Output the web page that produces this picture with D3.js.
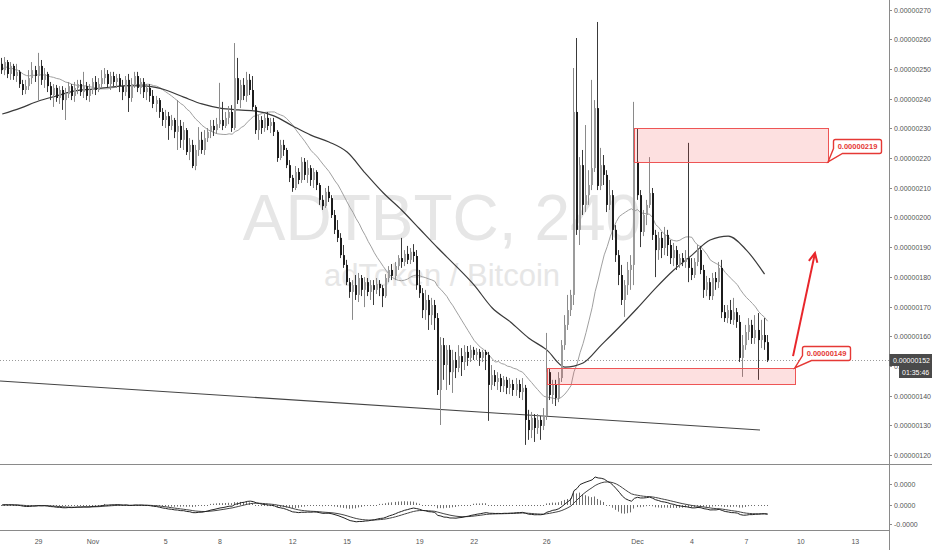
<!DOCTYPE html>
<html><head><meta charset="utf-8">
<script src="https://cdn.jsdelivr.net/npm/d3@7"></script>
<style>html,body{margin:0;padding:0;background:#fff;}svg{display:block;}</style>
</head><body>
<svg id="c" width="932" height="550"></svg>
<script>
// ADT/BTC 4h candles, prices in satoshi (x1e-8 BTC), first candle 2017-10-27 00:00 UTC
const opens = [251.7,249.6,252.3,248.3,251.0,247.6,249.0,244.9,242.9,244.2,246.9,249.6,247.6,251.0,246.3,248.3,244.2,241.2,243.6,240.2,242.9,239.5,241.5,244.2,240.9,243.6,244.9,242.2,244.2,240.9,242.9,245.6,242.9,244.9,246.9,248.3,244.9,247.6,245.6,246.9,244.2,242.2,246.3,240.2,244.9,247.6,243.6,245.6,242.2,243.6,240.9,238.2,239.5,235.5,232.8,234.1,230.8,232.8,228.8,230.8,226.1,229.4,222.0,224.4,217.3,222.7,226.1,222.7,226.7,228.8,230.8,229.4,231.4,232.8,230.8,233.5,235.5,230.1,246.9,239.5,244.6,240.9,246.3,242.9,237.2,229.4,232.8,230.1,233.5,230.8,232.1,228.8,220.0,224.4,222.7,217.6,213.3,209.9,215.3,212.6,218.7,214.3,216.6,212.6,215.3,210.9,205.9,203.8,208.6,206.5,200.8,195.8,193.1,187.3,184.0,178.2,174.9,177.2,173.9,179.6,175.6,178.2,174.9,177.2,175.6,177.6,176.2,173.5,179.6,182.3,180.3,183.6,186.3,185.0,187.7,185.7,188.4,187.0,177.2,174.5,168.8,172.2,167.1,170.5,166.1,141.9,157.0,150.3,155.4,147.9,152.0,149.3,153.3,151.3,154.7,152.7,155.4,153.7,154.7,152.7,154.7,153.7,143.6,146.9,144.6,145.9,143.2,145.3,142.6,143.9,141.9,143.9,141.2,142.6,131.8,128.4,132.5,129.1,131.8,129.8,133.1,147.9,140.2,143.6,139.2,145.9,157.0,163.8,168.8,173.9,235.5,195.8,217.6,204.2,207.5,210.9,216.6,236.8,210.6,217.6,214.3,204.2,207.5,195.8,187.3,180.6,172.2,177.2,182.3,184.0,218.7,207.5,195.1,200.8,204.2,208.2,194.1,189.0,193.1,189.7,194.1,190.7,186.3,189.0,184.0,186.3,185.0,186.3,183.0,180.6,185.0,189.0,182.3,175.6,178.2,173.5,179.6,178.2,183.0,168.1,166.1,168.8,165.5,168.1,164.8,152.7,157.0,161.4,163.8,159.4,162.1,158.7,160.4,158.0];
const highs = [253.7,254.0,253.0,252.3,251.7,251.7,249.6,246.3,246.3,249.6,252.3,251.0,255.4,253.0,250.3,249.0,245.6,244.9,244.6,244.2,244.2,243.6,245.6,244.9,245.6,246.3,246.3,249.0,245.6,244.9,246.9,247.6,246.9,249.6,250.3,249.6,249.0,249.0,248.3,248.3,246.3,247.6,248.3,246.9,249.0,249.0,246.9,246.9,244.9,244.9,242.9,240.9,240.2,236.8,236.2,235.5,234.5,233.5,239.5,232.8,232.1,230.1,226.7,226.1,224.4,230.4,228.8,229.4,230.1,232.8,232.8,233.5,245.3,238.9,235.5,237.5,237.8,258.7,253.7,246.3,246.9,249.0,248.3,247.6,237.8,234.5,234.1,234.8,235.5,233.5,233.5,229.4,226.1,226.1,223.4,219.3,214.3,217.3,216.6,220.3,220.0,219.3,217.6,216.6,215.9,211.6,207.5,209.9,210.6,207.5,202.5,199.1,194.7,190.7,185.7,179.6,178.9,180.6,181.3,180.6,179.9,179.6,178.9,178.9,179.6,178.9,177.2,180.9,183.6,184.3,185.0,187.3,193.1,189.0,190.4,189.7,191.0,189.0,182.3,176.2,175.6,173.9,172.9,172.2,167.8,159.7,159.4,157.0,157.0,155.4,154.7,157.0,156.0,157.0,156.7,157.0,156.4,156.0,155.7,155.4,155.4,154.7,150.3,148.6,147.9,147.3,146.6,146.3,145.9,145.3,145.9,145.3,145.9,143.6,135.2,134.5,133.8,133.8,133.1,135.8,161.1,149.3,145.3,145.3,147.9,158.7,167.1,173.9,175.6,250.3,260.4,220.3,222.7,231.1,215.9,246.3,239.5,265.8,223.4,221.0,215.9,212.6,209.2,197.4,189.0,184.0,178.9,185.0,187.3,238.9,230.1,209.2,202.5,205.9,220.3,209.9,195.8,195.1,195.1,196.8,195.8,192.4,191.4,190.4,187.7,188.0,189.0,225.1,186.3,186.3,190.7,190.4,184.0,180.3,179.6,181.3,181.6,185.0,185.7,170.5,170.5,172.2,172.9,169.5,167.1,160.4,163.8,166.1,165.5,167.1,167.8,165.5,166.1,160.4];
const lows = [248.3,247.9,246.9,246.3,246.3,245.6,243.6,241.2,241.5,242.9,244.9,245.6,239.5,244.6,243.6,242.2,239.5,237.2,238.9,238.2,236.2,232.8,240.2,239.5,238.9,241.5,240.9,240.2,239.5,238.9,241.5,241.2,242.2,243.6,244.9,243.6,242.9,244.2,243.6,242.2,239.5,240.9,235.5,238.9,243.6,242.2,241.5,240.2,239.5,238.9,236.8,235.5,233.5,230.8,230.1,226.1,229.4,226.7,222.7,223.4,222.7,221.0,219.3,216.6,215.9,220.7,221.4,221.0,225.4,226.7,227.4,228.1,230.1,229.4,230.1,231.4,228.8,229.4,238.2,236.8,239.5,238.9,241.2,236.2,228.1,226.1,228.1,228.8,229.4,228.4,227.4,218.7,219.3,220.7,216.6,211.9,208.6,209.2,211.2,211.6,212.6,211.6,210.6,209.9,209.2,204.2,202.5,203.2,205.2,199.8,194.4,191.7,186.3,183.0,177.2,172.9,165.5,172.2,171.5,173.5,169.8,173.5,172.2,170.5,174.2,173.5,169.8,172.9,178.2,178.9,178.9,182.3,183.0,183.6,184.3,184.3,185.0,175.6,172.9,166.1,165.5,162.1,163.8,162.1,140.2,130.1,145.3,141.9,143.6,140.9,145.9,147.9,146.6,148.6,150.0,151.3,152.0,152.0,150.0,151.3,148.6,131.5,141.9,143.2,141.9,141.2,141.2,140.5,140.5,139.9,139.9,139.2,138.5,123.4,125.1,125.7,124.4,127.1,125.1,128.4,131.8,138.5,137.2,136.5,137.8,144.6,155.4,162.1,166.8,170.5,194.1,190.7,200.8,201.8,204.2,209.2,215.3,209.2,209.2,210.9,201.8,202.5,192.4,185.0,177.2,170.5,166.5,173.9,175.6,177.2,205.9,190.0,193.7,197.4,203.2,192.4,179.9,185.7,186.3,187.3,187.0,184.3,183.6,182.3,183.0,183.6,183.0,178.2,178.9,179.6,183.6,180.9,172.9,173.5,172.2,172.2,175.6,176.2,166.1,164.8,164.4,164.1,163.8,162.8,151.3,146.3,155.4,158.7,157.4,157.4,145.3,156.0,155.4,151.3];
const closes = [249.6,252.3,248.3,251.0,247.6,249.0,244.9,242.9,244.2,246.9,249.6,247.6,251.0,246.3,248.3,244.2,241.2,243.6,240.2,242.9,239.5,241.5,244.2,240.9,243.6,244.9,242.2,244.2,240.9,242.9,245.6,242.9,244.9,246.9,248.3,244.9,247.6,245.6,246.9,244.2,242.2,246.3,240.2,244.9,247.6,243.6,245.6,242.2,243.6,240.9,238.2,239.5,235.5,232.8,234.1,230.8,232.8,228.8,230.8,226.1,229.4,222.0,224.4,217.3,222.7,226.1,222.7,226.7,228.8,230.8,229.4,231.4,232.8,230.8,233.5,235.5,230.1,246.9,239.5,244.6,240.9,246.3,242.9,237.2,229.4,232.8,230.1,233.5,230.8,232.1,228.8,220.0,224.4,222.7,217.6,213.3,209.9,215.3,212.6,218.7,214.3,216.6,212.6,215.3,210.9,205.9,203.8,208.6,206.5,200.8,195.8,193.1,187.3,184.0,178.2,174.9,177.2,173.9,179.6,175.6,178.2,174.9,177.2,175.6,177.6,176.2,173.5,179.6,182.3,180.3,183.6,186.3,185.0,187.7,185.7,188.4,187.0,177.2,174.5,168.8,172.2,167.1,170.5,166.1,141.9,157.0,150.3,155.4,147.9,152.0,149.3,153.3,151.3,154.7,152.7,155.4,153.7,154.7,152.7,154.7,153.7,143.6,146.9,144.6,145.9,143.2,145.3,142.6,143.9,141.9,143.9,141.2,142.6,131.8,128.4,132.5,129.1,131.8,129.8,133.1,147.9,140.2,143.6,139.2,145.9,157.0,163.8,168.8,173.9,235.5,195.8,217.6,204.2,207.5,210.9,216.6,236.8,210.6,217.6,214.3,204.2,207.5,195.8,187.3,180.6,172.2,177.2,182.3,184.0,218.7,207.5,195.1,200.8,204.2,208.2,194.1,189.0,193.1,189.7,194.1,190.7,186.3,189.0,184.0,186.3,185.0,186.3,183.0,180.6,185.0,189.0,182.3,175.6,178.2,173.5,179.6,178.2,183.0,168.1,166.1,168.8,165.5,168.1,164.8,152.7,157.0,161.4,163.8,159.4,162.1,158.7,160.4,158.0,152.0];
// slow moving average, one value per day (every 6th candle)
const ma50Daily = [234.8,236.8,239.2,240.9,242.6,243.2,243.9,244.4,244.2,242.9,240.5,238.2,236.8,236.2,235.8,234.1,230.8,227.7,225.4,222.0,214.9,208.2,202.5,196.1,189.7,183.6,177.2,169.5,164.8,159.4,155.4,149.6,151.0,157.0,163.1,169.5,176.2,182.3,187.3,192.4,193.7,189.0,180.9];
const priceTicks = [120,130,140,150,160,170,180,190,200,210,220,230,240,250,260,270];
const dateTicks = ["2017-10-29","2017-11-01","2017-11-05","2017-11-08","2017-11-12","2017-11-15","2017-11-19","2017-11-22","2017-11-26","2017-12-01","2017-12-04","2017-12-07","2017-12-10","2017-12-13"];
const dateLabels = ["29","Nov","5","8","12","15","19","22","26","Dec","4","7","10","13"];
const zones = [
  {from:"2017-11-30T20:00Z", to:"2017-12-11T12:00Z", top:230.1, bottom:218.7, label:"0.00000219", anchor:"bottom"},
  {from:"2017-11-26T00:00Z", to:"2017-12-09T16:00Z", top:149.3, bottom:143.9, label:"0.00000149", anchor:"top"}
];
const trendLine = [{t:"2017-10-26T21:02Z", p:144.9},{t:"2017-12-07T18:00Z", p:128.4}];
const arrowPts = [{t:"2017-12-09T13:40Z", p:153.3},{t:"2017-12-10T18:40Z", p:188.0}];
const lastPrice = 152.0;
const countdown = "01:35:46";
const symbolTitle = "ADTBTC, 240";
const symbolDesc = "adToken / Bitcoin";

const FONT = "'Liberation Sans', Arial, sans-serif";
const svg = d3.select("#c");
const plotR = 889;
const t0 = Date.UTC(2017,9,27);
const candleTime = i => new Date(t0 + i*4*3600e3);
const x = d3.scaleUtc().domain([new Date(Date.UTC(2017,9,26,21,2)), new Date(Date.UTC(2017,11,14,20,33))]).range([0, plotR]);
const y = d3.scaleLinear().domain([120,270]).range([455,9.5]);
const candles = closes.map((c,i)=>({t:candleTime(i), o:opens[i], h:highs[i], l:lows[i], c}));

svg.append("rect").attr("width",932).attr("height",550).attr("fill","#fff");
const defs = svg.append("defs");
defs.append("clipPath").attr("id","mainClip").append("rect").attr("x",0).attr("y",0).attr("width",plotR).attr("height",464);
defs.append("clipPath").attr("id","macdClip").append("rect").attr("x",0).attr("y",465).attr("width",plotR).attr("height",65);

const main = svg.append("g").attr("clip-path","url(#mainClip)");
// watermark
main.append("text").attr("x",442).attr("y",240).attr("text-anchor","middle")
  .attr("font-family",FONT).attr("font-size",64).attr("fill","#e6e6e6").text(symbolTitle);
main.append("text").attr("x",442).attr("y",286).attr("text-anchor","middle")
  .attr("font-family",FONT).attr("font-size",31).attr("fill","#e6e6e6").text(symbolDesc);

// current price dotted line
main.append("line").attr("x1",0).attr("x2",plotR).attr("y1",Math.round(y(lastPrice))+0.5).attr("y2",Math.round(y(lastPrice))+0.5)
  .attr("stroke","#9a9a9a").attr("stroke-width",1).attr("stroke-dasharray","1,2");

// trend line
main.append("line")
  .attr("x1",x(new Date(trendLine[0].t))).attr("y1",y(trendLine[0].p))
  .attr("x2",x(new Date(trendLine[1].t))).attr("y2",y(trendLine[1].p))
  .attr("stroke","#444").attr("stroke-width",1.1);

// moving averages
const sma20 = closes.map((c,i)=>d3.mean(closes.slice(Math.max(0,i-19),i+1)));
main.append("path").datum(sma20)
  .attr("d", d3.line().x((d,i)=>x(candleTime(i))).y(d=>y(d)))
  .attr("fill","none").attr("stroke","#a0a0a0").attr("stroke-width",1);
main.append("path").datum(ma50Daily)
  .attr("d", d3.line().x((d,i)=>x(candleTime(i*6))).y(d=>y(d)).curve(d3.curveMonotoneX))
  .attr("fill","none").attr("stroke","#3a3a3a").attr("stroke-width",1.2);

// candles
const cg = main.append("g");
candles.forEach(d=>{
  const cx = Math.round(x(d.t));
  const up = d.c >= d.o;
  cg.append("line").attr("x1",cx-0.5).attr("x2",cx-0.5).attr("y1",y(d.h)).attr("y2",y(d.l))
    .attr("stroke", up ? "#8a8a8a" : "#3a3a3a").attr("stroke-width",1);
  const yt = y(Math.max(d.o,d.c)), yb = y(Math.min(d.o,d.c));
  cg.append("rect").attr("x",cx-1).attr("width",2).attr("y",yt).attr("height",Math.max(1,yb-yt))
    .attr("fill", up ? "#9b9b9b" : "#1c1c1c");
});

// zones with callouts
zones.forEach(z=>{
  const x1 = x(new Date(z.from)), x2 = x(new Date(z.to));
  const yt = y(z.top), yb = y(z.bottom);
  main.append("rect").attr("x",Math.round(x1)+0.5).attr("y",Math.round(yt)+0.5)
    .attr("width",Math.round(x2-x1)).attr("height",Math.round(yb-yt))
    .attr("fill","rgba(242,60,60,0.16)").attr("stroke","#ee5555").attr("stroke-width",1);
  const ax = x2, ay = z.anchor==="bottom" ? yb : yt;
  const lx = Math.round(ax + (z.anchor==="bottom" ? 5 : 7)) + 0.5;
  const ly = Math.round(ay - (z.anchor==="bottom" ? 23 : 22)) + 0.5;
  const w = 48, h = 14, r = 2;
  const p = d3.path();
  p.moveTo(lx+r, ly); p.lineTo(lx+w-r, ly); p.quadraticCurveTo(lx+w, ly, lx+w, ly+r);
  p.lineTo(lx+w, ly+h-r); p.quadraticCurveTo(lx+w, ly+h, lx+w-r, ly+h);
  p.lineTo(lx+9, ly+h); p.lineTo(ax, ay); p.lineTo(lx, ly+h-5);
  p.lineTo(lx, ly+r); p.quadraticCurveTo(lx, ly, lx+r, ly); p.closePath();
  svg.append("path").attr("d",p.toString()).attr("fill","#fff").attr("stroke","#e53935").attr("stroke-width",1.4);
  svg.append("text").attr("x",lx+w/2).attr("y",ly+h/2+2.6).attr("text-anchor","middle")
    .attr("font-family",FONT).attr("font-size",7.5).attr("font-weight","bold").attr("fill","#e53935").text(z.label);
});

// arrow
{
  const ax1 = x(new Date(arrowPts[0].t)), ay1 = y(arrowPts[0].p);
  const ax2 = x(new Date(arrowPts[1].t)), ay2 = y(arrowPts[1].p);
  svg.append("line").attr("x1",ax1).attr("y1",ay1).attr("x2",ax2).attr("y2",ay2)
    .attr("stroke","#e8262b").attr("stroke-width",2);
  const ang = Math.atan2(ay2-ay1, ax2-ax1), L = 10, spread = 0.45;
  const hp = d3.path();
  hp.moveTo(ax2 - L*Math.cos(ang-spread), ay2 - L*Math.sin(ang-spread));
  hp.lineTo(ax2, ay2);
  hp.lineTo(ax2 - L*Math.cos(ang+spread), ay2 - L*Math.sin(ang+spread));
  svg.append("path").attr("d",hp.toString()).attr("fill","none").attr("stroke","#e8262b").attr("stroke-width",2);
}

// MACD pane
function ema(a,n){const k=2/(n+1);const o=[];a.forEach((v,i)=>o.push(i?v*k+o[i-1]*(1-k):v));return o;}
const e12 = ema(closes,12), e26 = ema(closes,26);
const macd = e12.map((v,i)=>v-e26[i]);
const signal = ema(macd,9);
const hist = macd.map((v,i)=>v-signal[i]);
const my = d3.scaleLinear().domain([0, d3.max(macd)]).range([505,477]);
const mg = svg.append("g").attr("clip-path","url(#macdClip)");
hist.forEach((v,i)=>{
  const cx = Math.round(x(candleTime(i)))-0.5;
  const y2 = Math.abs(my(v)-my(0)) < 1 ? my(0)+1 : my(v);
  mg.append("line").attr("x1",cx).attr("x2",cx).attr("y1",my(0)).attr("y2",y2)
    .attr("stroke","#6e6e6e").attr("stroke-width",1);
});
mg.append("path").datum(signal).attr("d",d3.line().x((d,i)=>x(candleTime(i))).y(d=>my(d)))
  .attr("fill","none").attr("stroke","#444").attr("stroke-width",1);
mg.append("path").datum(macd).attr("d",d3.line().x((d,i)=>x(candleTime(i))).y(d=>my(d)))
  .attr("fill","none").attr("stroke","#222").attr("stroke-width",1);

// frame lines
svg.append("line").attr("x1",0).attr("x2",932).attr("y1",464.5).attr("y2",464.5).attr("stroke","#8a8a8a");
svg.append("line").attr("x1",0).attr("x2",plotR).attr("y1",530.5).attr("y2",530.5).attr("stroke","#8a8a8a");
svg.append("line").attr("x1",plotR+0.5).attr("x2",plotR+0.5).attr("y1",0).attr("y2",550).attr("stroke","#8a8a8a");

// price axis
const ax = svg.append("g").attr("font-family",FONT).attr("font-size",7).attr("fill","#555");
priceTicks.forEach(p=>{
  const yy = Math.round(y(p))+0.5;
  ax.append("line").attr("x1",plotR).attr("x2",plotR+3).attr("y1",yy).attr("y2",yy).attr("stroke","#8a8a8a");
  ax.append("text").attr("x",plotR+5).attr("y",yy+2.5).text((p*1e-8).toFixed(8));
});
// macd axis
const macdTickVals = [my.invert(484), 0, my.invert(524)];
macdTickVals.forEach(v=>{
  const yy = Math.round(my(v))+0.5;
  ax.append("line").attr("x1",plotR).attr("x2",plotR+3).attr("y1",yy).attr("y2",yy).attr("stroke","#8a8a8a");
  ax.append("text").attr("x",plotR+5).attr("y",yy+2.5).text((v<-1e-9?"-":"")+Math.abs(v*1e-8).toFixed(4));
});
// date axis
dateTicks.forEach((d,i)=>{
  ax.append("text").attr("x",x(new Date(d+"T00:00:00Z"))).attr("y",544).attr("text-anchor","middle").text(dateLabels[i]);
});

// last price label
{
  const yy = Math.round(y(lastPrice));
  svg.append("rect").attr("x",plotR+0.5).attr("y",yy-6).attr("width",932-plotR).attr("height",12).attr("fill","#4a4a4a");
  svg.append("text").attr("x",plotR+4).attr("y",yy+2.6).attr("font-family",FONT).attr("font-size",7).attr("fill","#fff").text((lastPrice*1e-8).toFixed(8));
  svg.append("rect").attr("x",plotR+10).attr("y",yy+6).attr("width",932-plotR-10).attr("height",12).attr("fill","#4a4a4a");
  svg.append("text").attr("x",plotR+13).attr("y",yy+14.6).attr("font-family",FONT).attr("font-size",7).attr("fill","#fff").text(countdown);
}
</script>
</body></html>
